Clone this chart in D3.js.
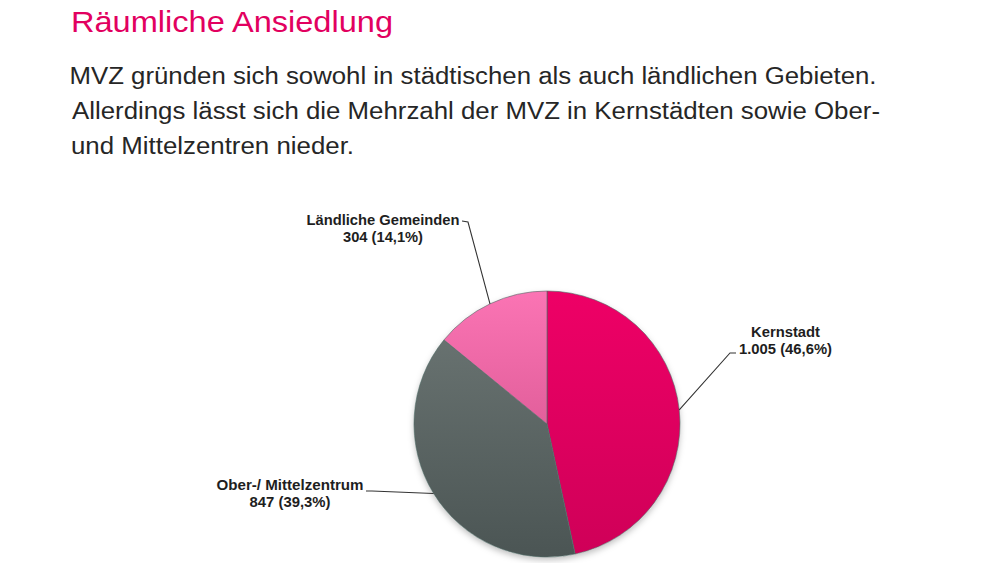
<!DOCTYPE html>
<html>
<head>
<meta charset="utf-8">
<script src="https://cdn.jsdelivr.net/npm/d3@7"></script>
<style>
  body { margin: 0; background: #fff; }
  svg { display: block; font-family: "Liberation Sans", Arial, sans-serif; }
</style>
</head>
<body>
<svg id="chart" width="1000" height="563"></svg>
<script>
// chart data
var categories = ["Kernstadt", "Ober-/ Mittelzentrum", "Ländliche Gemeinden"];
var counts = [1005, 847, 304];
var countLabels = ["1.005", "847", "304"];
var shares = ["46,6%", "39,3%", "14,1%"];

var title = "Räumliche Ansiedlung";
var intro = [
  "MVZ gründen sich sowohl in städtischen als auch ländlichen Gebieten.",
  "Allerdings lässt sich die Mehrzahl der MVZ in Kernstädten sowie Ober-",
  "und Mittelzentren nieder."
];

var svg = d3.select("#chart");
var cx = 547, cy = 424, radius = 133;

// the original picture is a bit wider than the font, so stretch text to its width
svg.append("text").attr("x", 71).attr("y", 32)
  .attr("font-size", 30).attr("fill", "#e2005f")
  .attr("textLength", 322).attr("lengthAdjust", "spacingAndGlyphs")
  .text(title);
var introX = [69.5, 72, 71], introW = [807, 808, 283];
svg.selectAll(".intro").data(intro).enter().append("text")
  .attr("class", "intro")
  .attr("x", function (d, i) { return introX[i] })
  .attr("y", function (d, i) { return 83.5 + i * 35 })
  .attr("font-size", 23).attr("fill", "#262626")
  .attr("textLength", function (d, i) { return introW[i] })
  .attr("lengthAdjust", "spacingAndGlyphs")
  .text(function (d) { return d });

// gradients (vertical, lighter at top)
var grads = [["#ee0066", "#cf0058"], ["#6e7876", "#4b5554"], ["#fb74b4", "#c94a82"]];
var defs = svg.append("defs");
grads.forEach(function (g, i) {
  var lg = defs.append("linearGradient").attr("id", "g" + i)
    .attr("gradientUnits", "userSpaceOnUse")
    .attr("x1", 0).attr("x2", 0).attr("y1", -radius).attr("y2", radius);
  lg.append("stop").attr("offset", "0%").attr("stop-color", g[0]);
  lg.append("stop").attr("offset", "100%").attr("stop-color", g[1]);
});
var shadow = defs.append("filter").attr("id", "shadow")
  .attr("x", "-20%").attr("y", "-20%").attr("width", "140%").attr("height", "140%");
shadow.append("feDropShadow").attr("dx", 0).attr("dy", 3).attr("stdDeviation", 3)
  .attr("flood-color", "#000").attr("flood-opacity", 0.25);

var pie = d3.pie().value(function (d) { return d }).sort(null);
var arcs = pie(counts);
var arc = d3.arc().innerRadius(0).outerRadius(radius);

var g = svg.append("g").attr("transform", "translate(" + cx + "," + cy + ")");
g.append("circle").attr("r", radius).attr("fill", "#fff").attr("filter", "url(#shadow)");
g.selectAll(".slice").data(arcs).enter().append("path")
  .attr("class", "slice")
  .attr("d", arc)
  .attr("fill", function (d, i) { return "url(#g" + i + ")" })
  .attr("stroke", "#4f6b66").attr("stroke-width", 0.6);

// labels with leader lines
var labelPos = [
  { x: 785.5, y: 336.5, w: [69, 93], line: [[736, 353], [730, 353]] },
  { x: 290, y: 489.5, w: [147, 81], line: [[366, 491], [372, 491]] },
  { x: 383, y: 225, w: [153, 80], line: [[462, 221], [468, 222]] }
];
arcs.forEach(function (d, i) {
  var mid = (d.startAngle + d.endAngle) / 2;
  var ex = cx + radius * Math.sin(mid), ey = cy - radius * Math.cos(mid);
  var p = labelPos[i];
  var pts = p.line.concat([[ex, ey]]);
  svg.append("path")
    .attr("d", d3.line()(pts))
    .attr("fill", "none").attr("stroke", "#333").attr("stroke-width", 1.1);
  var t = svg.append("text").attr("text-anchor", "middle")
    .attr("font-size", 14).attr("font-weight", "bold").attr("fill", "#1e1e1e");
  t.append("tspan").attr("x", p.x).attr("y", p.y)
    .attr("textLength", p.w[0]).attr("lengthAdjust", "spacingAndGlyphs")
    .text(categories[i]);
  t.append("tspan").attr("x", p.x).attr("y", p.y + 17)
    .attr("textLength", p.w[1]).attr("lengthAdjust", "spacingAndGlyphs")
    .text(countLabels[i] + " (" + shares[i] + ")");
});
</script>
</body>
</html>
